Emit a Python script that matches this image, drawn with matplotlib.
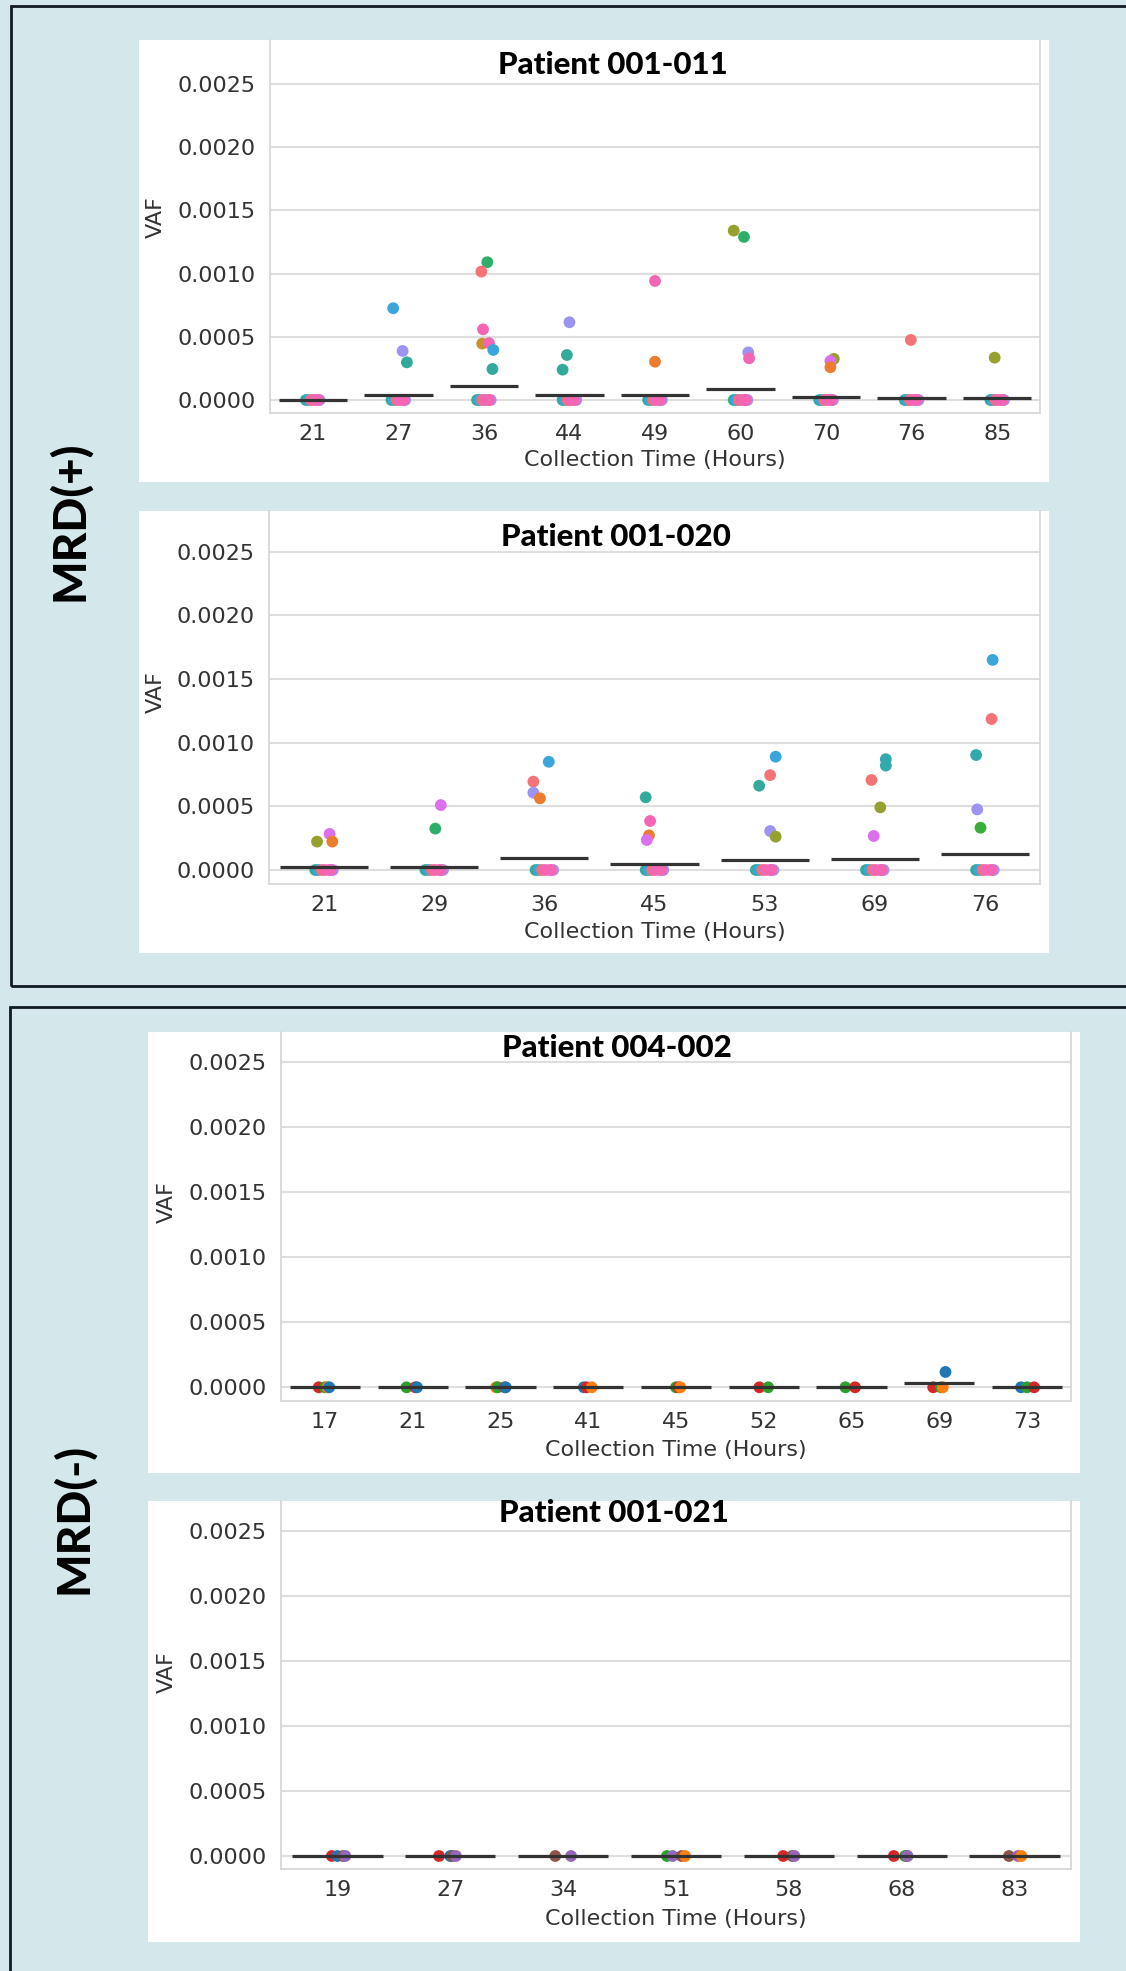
import matplotlib
matplotlib.use('Agg')
import matplotlib.pyplot as plt
from matplotlib.patches import Rectangle

# ---------------- data ----------------
times1 = ['21', '27', '36', '44', '49', '60', '70', '76', '85']
vals1 = [
    [],
    [0.000726, 0.000388, 0.000298],
    [0.00109, 0.001016, 0.000559, 0.000446, 0.000450, 0.000396, 0.000245],
    [0.000615, 0.000356, 0.000240],
    [0.000942, 0.000303],
    [0.00134, 0.00129, 0.000377, 0.000330],
    [0.000325, 0.000309, 0.000259],
    [0.000475],
    [0.000335],
]
cols1 = [
    [],
    ['blue', 'purple', 'teal'],
    ['green', 'red', 'pink', 'gold', 'pink', 'blue', 'teal'],
    ['purple', 'teal', 'teal'],
    ['pink', 'orange'],
    ['olive', 'green', 'purple', 'pink'],
    ['olive', 'magenta', 'orange'],
    ['red'],
    ['olive'],
]
means1 = [0.000002, 0.000037, 0.000108, 0.000037, 0.000037, 0.000087, 0.000024, 0.000013, 0.000013]

times2 = ['21', '29', '36', '45', '53', '69', '76']
vals2 = [
    [0.000223, 0.000283, 0.000223],
    [0.00051, 0.000325],
    [0.00085, 0.000694, 0.000607, 0.000563],
    [0.000571, 0.000385, 0.000272, 0.000236],
    [0.00089, 0.000745, 0.000662, 0.000306, 0.000262],
    [0.00087, 0.00082, 0.000707, 0.000492, 0.000267],
    [0.00165, 0.001186, 0.000903, 0.000476, 0.000332],
]
cols2 = [
    ['olive', 'magenta', 'orange'],
    ['magenta', 'green'],
    ['blue', 'red', 'purple', 'orange'],
    ['teal', 'pink', 'orange', 'magenta'],
    ['blue', 'red', 'teal', 'purple', 'olive'],
    ['cyan', 'cyan', 'red', 'olive', 'magenta'],
    ['blue', 'red', 'cyan', 'purple', 'lgreen'],
]
means2 = [0.000024, 0.000024, 0.000097, 0.000045, 0.000076, 0.000084, 0.000126]

times3 = ['17', '21', '25', '41', '45', '52', '65', '69', '73']
vals3 = [[], [], [], [], [], [], [], [0.000118], []]
cols3 = [[], [], [], [], [], [], [], ['tblue'], []]
means3 = [0.0, 0.0, 0.0, 0.0, 0.0, 0.0, 0.0, 0.00003, 0.0]
zeros3 = [
    ['tred', 'tgreen', 'torange', 'tblue'],
    ['tgreen', 'tred', 'tblue'],
    ['torange', 'tgreen', 'tred', 'tblue'],
    ['tblue', 'tred', 'torange'],
    ['tgreen', 'tred', 'torange'],
    ['tred', 'tgreen'],
    ['tgreen', 'tred'],
    ['tred', 'tgreen', 'torange'],
    ['tblue', 'tgreen', 'tred'],
]

times4 = ['19', '27', '34', '51', '58', '68', '83']
vals4 = [[], [], [], [], [], [], []]
cols4 = [[], [], [], [], [], [], []]
means4 = [0.0, 0.0, 0.0, 0.0, 0.0, 0.0, 0.0]
zeros4 = [
    ['tred', 'tblue', 'tbrown', 'tpurple'],
    ['tred', 'tblue', 'tbrown', 'tpurple'],
    ['tbrown', 'tpurple'],
    ['tgreen', 'tpurple', 'tbrown', 'torange'],
    ['tred', 'tbrown', 'tpurple'],
    ['tred', 'tgreen', 'tbrown', 'tpurple'],
    ['tbrown', 'tpurple', 'torange'],
]
zeros_top = ['teal', 'blue', 'purple', 'magenta', 'red', 'pink', 'pink']

titles = ['Patient 001-011', 'Patient 001-020', 'Patient 004-002', 'Patient 001-021']

# ---------------- styles ----------------
PAL = {
    'blue': '#3aa6da', 'purple': '#9d93f2', 'teal': '#33aa9c', 'cyan': '#31a9ad',
    'green': '#2fae6a', 'lgreen': '#3aae3a', 'red': '#f47376', 'pink': '#f466b4',
    'magenta': '#db6fee', 'orange': '#ec7c30', 'gold': '#c8932d', 'olive': '#96a02e',
    'tblue': '#1f77b4', 'torange': '#ff7f0e', 'tgreen': '#2ca02c', 'tred': '#d62728',
    'tpurple': '#9467bd', 'tbrown': '#8c564b',
}
jit1 = [[], [-0.06, 0.05, 0.10], [0.04, -0.03, -0.01, -0.02, 0.06, 0.11, 0.10],
        [0.0, -0.03, -0.08], [0.0, 0.0], [-0.08, 0.04, 0.09, 0.10],
        [0.09, 0.05, 0.05], [-0.01], [-0.03]]
jit2 = [[-0.064, 0.05, 0.075], [0.06, 0.01], [0.04, -0.10, -0.10, -0.04],
        [-0.08, -0.04, -0.05, -0.07], [0.10, 0.05, -0.05, 0.05, 0.10],
        [0.10, 0.10, -0.03, 0.05, -0.01], [0.07, 0.06, -0.08, -0.07, -0.04]]
jit3 = [[], [], [], [], [], [], [], [0.07], []]
jit4 = [[] for _ in range(7)]
zjit_top = [-0.08, -0.05, 0.08, 0.05, -0.02, 0.06, 0.01]
zjit3 = [[-0.07, 0.0, 0.03, 0.05], [-0.07, 0.03, 0.05], [-0.05, -0.03, 0.05, 0.06],
         [-0.05, -0.02, 0.04], [0.0, 0.03, 0.05], [-0.05, 0.05], [-0.07, 0.04],
         [-0.07, 0.02, 0.04], [-0.07, 0.0, 0.08]]
zjit4 = [[-0.05, 0.0, 0.05, 0.07], [-0.10, 0.0, 0.02, 0.05], [-0.07, 0.07],
         [-0.08, -0.03, 0.05, 0.08], [-0.05, 0.03, 0.05], [-0.07, 0.03, 0.05, 0.05],
         [-0.05, 0.03, 0.06]]

W, H = 1126, 1971
BG = '#d4e8ec'
fig = plt.figure(figsize=(W / 100, H / 100), dpi=100, facecolor=BG)


def frect(x0, y0, x1, y1):
    return [x0 / W, 1 - y1 / H, (x1 - x0) / W, (y1 - y0) / H]


# outer boxes
for (x0, y0, x1, y1) in [(11, 6, 1140, 986), (10, 1007, 1140, 1995)]:
    fig.add_artist(Rectangle((x0 / W, 1 - y1 / H), (x1 - x0) / W, (y1 - y0) / H,
                             transform=fig.transFigure, facecolor='none',
                             edgecolor='#111a22', lw=2.0, zorder=0))

panels = [
    dict(white=(139, 40, 1049, 482), ax=(270, 40, 1040, 413), zero=400, top=84,
         times=times1, vals=vals1, cols=cols1, means=means1, jit=jit1, zeros=None,
         title=(613, 65), ylab=(156, 217), xlab=(655, 460)),
    dict(white=(139, 511, 1049, 953), ax=(269, 511, 1040, 884), zero=870, top=551.7,
         times=times2, vals=vals2, cols=cols2, means=means2, jit=jit2, zeros=None,
         title=(616, 537), ylab=(156, 692), xlab=(655, 932)),
    dict(white=(148, 1032, 1080, 1473), ax=(281, 1032, 1071, 1401), zero=1387.3, top=1062.3,
         times=times3, vals=vals3, cols=cols3, means=means3, jit=jit3, zeros=(zeros3, zjit3),
         title=(617, 1048), ylab=(167, 1202), xlab=(676, 1450)),
    dict(white=(148, 1501, 1080, 1942), ax=(281, 1501, 1071, 1869), zero=1856, top=1530.7,
         times=times4, vals=vals4, cols=cols4, means=means4, jit=jit4, zeros=(zeros4, zjit4),
         title=(614, 1513), ylab=(167, 1672), xlab=(676, 1919)),
]

DOT = 72
for k, p in enumerate(panels):
    wx0, wy0, wx1, wy1 = p['white']
    fig.add_artist(Rectangle((wx0 / W, 1 - wy1 / H), (wx1 - wx0) / W, (wy1 - wy0) / H,
                             transform=fig.transFigure, facecolor='white',
                             edgecolor='none', zorder=0.5))
    ax0, ay0, ax1, ay1 = p['ax']
    ax = fig.add_axes(frect(ax0, ay0, ax1, ay1))
    ax.set_zorder(2)
    ax.set_facecolor('white')
    ppu = (p['zero'] - p['top']) / 0.0025
    ytop = (p['zero'] - ay0) / ppu
    ybot = -(ay1 - p['zero']) / ppu
    ax.set_ylim(ybot, ytop)
    n = len(p['times'])
    ax.set_xlim(-0.5, n - 0.5)
    ax.set_xticks(range(n))
    ax.set_xticklabels(p['times'])
    yt = [0.0, 0.0005, 0.001, 0.0015, 0.002, 0.0025]
    ax.set_yticks(yt)
    ax.set_yticklabels(['%.4f' % v for v in yt])
    ax.tick_params(length=0, labelsize=16, colors='#333333')
    ax.tick_params(axis='y', pad=10)
    ax.tick_params(axis='x', pad=8)
    ax.grid(axis='y', color='#dedede', lw=1.5, zorder=0)
    ax.set_axisbelow(True)
    for s in ['left', 'right', 'bottom']:
        ax.spines[s].set_color('#d8d8d8')
        ax.spines[s].set_linewidth(1.3)
    ax.spines['top'].set_visible(False)

    # zero-valued points
    for i in range(n):
        if p['zeros'] is None:
            zc, zj = zeros_top, zjit_top
        else:
            zc, zj = p['zeros'][0][i], p['zeros'][1][i]
        for c, o in zip(zc, zj):
            ax.scatter(i + o, 0.0, s=DOT, color=PAL[c], edgecolor='none', zorder=2)
    # non-zero points
    for i in range(n):
        for v, c, o in zip(p['vals'][i], p['cols'][i], p['jit'][i]):
            ax.scatter(i + o, v, s=DOT, color=PAL[c], edgecolor='none', zorder=2)
    # mean lines
    for i, m in enumerate(p['means']):
        ax.hlines(m, i - 0.4, i + 0.4, color='#333333', lw=2.3, zorder=3)

    ax.set_xlabel('Collection Time (Hours)', fontsize=16, color='#333333')
    ax.xaxis.set_label_coords((p['xlab'][0] - ax0) / (ax1 - ax0), (ay1 - p['xlab'][1]) / (ay1 - ay0))
    ax.xaxis.label.set_verticalalignment('center')
    ax.set_ylabel('VAF', fontsize=16, color='#333333')
    ax.yaxis.set_label_coords((p['ylab'][0] - ax0) / (ax1 - ax0), (ay1 - p['ylab'][1]) / (ay1 - ay0))
    ax.yaxis.label.set_verticalalignment('center')

    t = fig.text(p['title'][0] / W, 1 - p['title'][1] / H, titles[k], fontsize=22.5,
                 fontweight='black', family='Lato', color='black', ha='center', va='center')
    t.set_zorder(5)

fig.text(69 / W, 1 - 521 / H, 'MRD(+)', rotation=90, fontsize=33, fontweight='black',
         family='Lato', ha='center', va='center', color='black')
fig.text(73 / W, 1 - 1518 / H, 'MRD(-)', rotation=90, fontsize=33, fontweight='black',
         family='Lato', ha='center', va='center', color='black')

fig.savefig('out.png', dpi=100, facecolor=BG)
